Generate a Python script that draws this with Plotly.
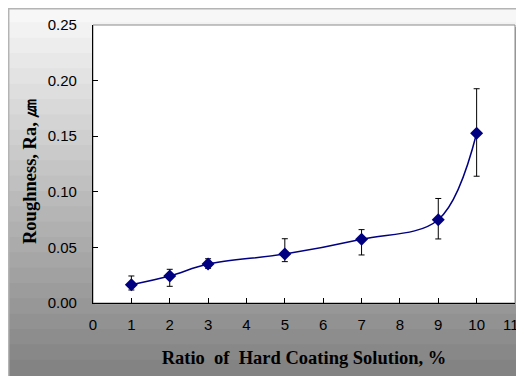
import plotly.graph_objects as go

# ---- data ----
ratio = [1, 2, 3, 5, 7, 9, 10]
roughness = [0.0165, 0.0243, 0.0350, 0.0440, 0.0573, 0.0749, 0.1526]
err_plus = [0.0078, 0.0060, 0.0048, 0.0138, 0.0087, 0.0191, 0.0401]
err_minus = [0.0048, 0.0093, 0.0038, 0.0068, 0.0141, 0.0173, 0.0386]
x_ticks = list(range(0, 12))
x_tick_labels = [str(v) for v in x_ticks[:-1]] + ["11\u00a0\u00a0"]
y_ticks = [0.00, 0.05, 0.10, 0.15, 0.20, 0.25]

# the page adds an 8px body margin, so the figure is 8px smaller
W, H = 516, 368
L, R, T, B = 85, 9, 17, 73
pw, ph = W - L - R, H - T - B


def px(xp):
    return (xp - L) / pw


def py(yp):
    return (H - B - yp) / ph


fig = go.Figure()
fig.add_trace(go.Scatter(
    x=ratio, y=roughness, mode="lines+markers",
    line=dict(color="#000080", width=1.5, shape="spline", smoothing=1.0),
    marker=dict(symbol="diamond", size=10, color="#000080"),
    error_y=dict(type="data", array=err_plus, arrayminus=err_minus,
                 symmetric=False, color="black", thickness=1, width=3),
    showlegend=False,
))

shapes = []
# vertical gradient background of the whole chart box
top_c, bot_c = 250, 128
n = 24
for i in range(n):
    a = H * i / n
    b = H * (i + 1) / n
    c = round(top_c + (bot_c - top_c) * (i + 0.5) / n)
    shapes.append(dict(type="rect", xref="paper", yref="paper",
                       x0=px(-2), x1=px(W + 2), y0=py(b + 1), y1=py(a - 1),
                       fillcolor=f"rgb({c},{c},{c})", line=dict(width=0),
                       layer="below"))
# chart box border (top and left edges)
shapes.append(dict(type="line", xref="paper", yref="paper",
                   x0=px(0), x1=px(W), y0=py(0.7), y1=py(0.7),
                   line=dict(color="#b4b4b4", width=1.5), layer="below"))
shapes.append(dict(type="line", xref="paper", yref="paper",
                   x0=px(0.7), x1=px(0.7), y0=py(0), y1=py(H),
                   line=dict(color="#b4b4b4", width=1.5), layer="below"))
# plot area shadow + white plot area
shapes.append(dict(type="rect", xref="paper", yref="paper",
                   x0=px(L + 2), x1=px(L + pw + 2), y0=py(T + ph + 2), y1=py(T + 2),
                   fillcolor="#a0a0a0", line=dict(width=0), layer="below"))
shapes.append(dict(type="rect", xref="paper", yref="paper",
                   x0=0, x1=1, y0=0, y1=1,
                   fillcolor="white", line=dict(color="#8c8c8c", width=1),
                   layer="below"))

tickfont = dict(family="Liberation Sans, Arial, sans-serif", size=15, color="black")
titlefont = dict(family="Liberation Serif, Times New Roman, serif", size=18.5, color="black")

fig.update_layout(
    width=W, height=H,
    margin=dict(l=L, r=R, t=T, b=B, pad=0),
    shapes=shapes,
    xaxis=dict(range=[0, 11], tickvals=x_ticks, ticktext=x_tick_labels,
               ticks="inside", ticklen=5, ticklabeloverflow="allow",
               tickcolor="black", showline=True, linecolor="black", linewidth=1.2,
               showgrid=False, zeroline=False, tickfont=tickfont,
               ticklabelstandoff=8, automargin=False,
               title=dict(text="<b>Ratio  of  Hard Coating Solution, %</b>",
                          font=titlefont, standoff=18)),
    yaxis=dict(range=[0, 0.25], tickvals=y_ticks, tickformat=".2f",
               ticks="inside", ticklen=5, tickcolor="black", showline=True,
               linecolor="black", linewidth=1.2, showgrid=False, zeroline=False,
               tickfont=tickfont, ticklabelstandoff=12, automargin=False),
    annotations=[dict(text="<b>Roughness, Ra, ㎛</b>", textangle=-90,
                      xref="paper", yref="paper", x=px(22), y=py(164),
                      xanchor="center", yanchor="middle", showarrow=False,
                      font=titlefont)],
)

fig.write_html("out.html")
